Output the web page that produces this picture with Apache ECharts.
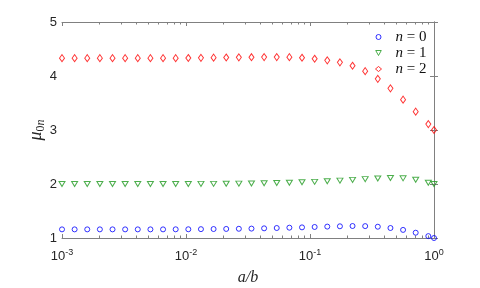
<!DOCTYPE html>
<html><head><meta charset="utf-8">
<script src="https://cdn.jsdelivr.net/npm/echarts@6/dist/echarts.min.js"></script>
<style>html,body{margin:0;padding:0;background:#fff}#c{width:480px;height:288px}</style>
</head><body><div id="c"></div>
<script>
// a/b sample positions
const xs = [0.001, 0.001264, 0.001598, 0.002020, 0.002555, 0.003230, 0.004084, 0.005164, 0.006531, 0.008256,
  0.01044, 0.01320, 0.01669, 0.02110, 0.02668, 0.03373, 0.04266, 0.05393, 0.06820, 0.08622,
  0.1090, 0.1378, 0.1743, 0.2203, 0.2786, 0.3522, 0.4454, 0.5631, 0.7119, 0.9000, 1.0];
// mu_{00}
const n0 = [1.160, 1.160, 1.160, 1.160, 1.160, 1.160, 1.160, 1.160, 1.160, 1.161,
  1.162, 1.164, 1.166, 1.168, 1.171, 1.174, 1.179, 1.185, 1.191, 1.197,
  1.204, 1.211, 1.217, 1.222, 1.220, 1.209, 1.185, 1.150, 1.098, 1.035, 1.000];
// mu_{01}
const n1 = [2.000, 2.000, 2.000, 2.000, 2.000, 2.000, 2.000, 2.000, 2.000, 2.000,
  2.000, 2.002, 2.003, 2.005, 2.007, 2.010, 2.013, 2.018, 2.024, 2.031,
  2.040, 2.050, 2.062, 2.076, 2.090, 2.103, 2.110, 2.105, 2.080, 2.022, 2.000];
// mu_{02}
const n2 = [4.330, 4.330, 4.330, 4.330, 4.330, 4.330, 4.330, 4.330, 4.330, 4.331,
  4.333, 4.336, 4.339, 4.342, 4.345, 4.348, 4.350, 4.350, 4.349, 4.338,
  4.320, 4.290, 4.253, 4.190, 4.090, 3.948, 3.772, 3.562, 3.340, 3.110, 3.000];

const seriesNames = ['n = 0', 'n = 1', 'n = 2'];
const xMin = 0.001, xMax = 1;
const yMin = 1, yMax = 5, yStep = 1;
// minor log ticks (2..9 within each decade), expressed as log10 values
const minorTicks = [];
for (let p = -3; p < 0; p++) for (let k = 2; k <= 9; k++) minorTicks.push(p + Math.log10(k));

const axisGray = '#808080';
const txt = '#262626';
const serif = '"Liberation Serif", "DejaVu Serif", serif';
const sans = '"Liberation Sans", Arial, sans-serif';
const downTri = 'path://M0,0 L10,0 L5,9 Z';

const chart = echarts.init(document.getElementById('c'), null, {renderer: 'canvas'});
const pts = arr => xs.map((x, i) => [x, arr[i]]);

chart.setOption({
  animation: false,
  backgroundColor: '#fff',
  grid: {left: 62, right: 46, top: 22, bottom: 50, containLabel: false, outerBoundsMode: 'none'},
  legend: {
    orient: 'vertical', left: 375, top: 29, padding: 0, itemGap: 0,
    itemWidth: 6, itemHeight: 5,
    itemStyle: {borderWidth: 1},
    data: [
      {name: seriesNames[0], icon: 'circle'},
      {name: seriesNames[1], icon: downTri},
      {name: seriesNames[2], icon: 'diamond'}
    ],
    formatter: name => name.replace(/^n/, '{i|n}'),
    textStyle: {
      fontFamily: serif, fontSize: 15, color: '#111', lineHeight: 16, padding: [0, 0, 0, 9],
      rich: {i: {fontFamily: serif, fontStyle: 'italic', fontSize: 15, color: '#111', lineHeight: 16}}
    }
  },
  xAxis: [
    {
      type: 'log', logBase: 10, min: xMin, max: xMax, position: 'bottom',
      axisLine: {show: true, lineStyle: {color: axisGray, width: 1}},
      axisTick: {show: true, inside: true, length: 4, lineStyle: {color: axisGray}},
      splitLine: {show: false}, minorTick: {show: false},
      name: 'a/b', nameLocation: 'middle', nameGap: 32,
      nameTextStyle: {fontFamily: serif, fontStyle: 'italic', fontSize: 16, color: txt},
      axisLabel: {
        margin: 11,
        formatter: v => '{b|10}{s|' + Math.round(Math.log10(v)) + '}',
        rich: {
          b: {fontFamily: sans, fontSize: 13, color: txt, verticalAlign: 'bottom', lineHeight: 14},
          s: {fontFamily: sans, fontSize: 9, color: txt, verticalAlign: 'bottom', lineHeight: 10, padding: [0, 0, 6, 0]}
        }
      }
    },
    {
      type: 'log', logBase: 10, min: xMin, max: xMax, position: 'top',
      axisLine: {show: true, lineStyle: {color: axisGray, width: 1}},
      axisTick: {show: true, inside: true, length: 4, lineStyle: {color: axisGray}},
      axisLabel: {show: false}, splitLine: {show: false}
    },
    {
      type: 'value', min: -3, max: 0, position: 'bottom',
      axisLine: {show: false}, splitLine: {show: false},
      axisLabel: {show: false, customValues: minorTicks},
      axisTick: {show: true, inside: true, length: 2.5, customValues: minorTicks, lineStyle: {color: axisGray}}
    },
    {
      type: 'value', min: -3, max: 0, position: 'top',
      axisLine: {show: false}, splitLine: {show: false},
      axisLabel: {show: false, customValues: minorTicks},
      axisTick: {show: true, inside: true, length: 2.5, customValues: minorTicks, lineStyle: {color: axisGray}}
    }
  ],
  yAxis: [
    {
      type: 'value', min: yMin, max: yMax, interval: yStep, position: 'left',
      axisLine: {show: true, lineStyle: {color: axisGray, width: 1}},
      axisTick: {show: true, inside: true, length: 4, lineStyle: {color: axisGray}},
      splitLine: {show: false},
      axisLabel: {margin: 5, fontFamily: sans, fontSize: 13, color: txt},
      name: '{m|μ}{z|0}{n|n}', nameLocation: 'middle', nameRotate: 90, nameGap: 17,
      nameMoveOverlap: false,
      nameTextStyle: {
        rich: {
          m: {fontFamily: serif, fontStyle: 'italic', fontSize: 18, color: txt, verticalAlign: 'top', lineHeight: 18},
          z: {fontFamily: serif, fontSize: 12, color: txt, verticalAlign: 'top', lineHeight: 12, padding: [8, 0, 0, 0]},
          n: {fontFamily: serif, fontStyle: 'italic', fontSize: 12, color: txt, verticalAlign: 'top', lineHeight: 12, padding: [8, 0, 0, 0]}
        }
      }
    },
    {
      type: 'value', min: yMin, max: yMax, interval: yStep, position: 'right',
      axisLine: {show: true, lineStyle: {color: axisGray, width: 1}},
      axisTick: {show: true, inside: true, length: 4, lineStyle: {color: axisGray}},
      axisLabel: {show: false}, splitLine: {show: false}
    }
  ],
  series: [
    {name: seriesNames[0], type: 'scatter', data: pts(n0), symbol: 'circle', symbolSize: 5,
     itemStyle: {color: 'rgba(0,0,0,0)', borderColor: '#0000ff', borderWidth: 1}},
    {name: seriesNames[1], type: 'scatter', data: pts(n1), symbol: 'triangle', symbolRotate: 180, symbolSize: [6, 5],
     itemStyle: {color: 'rgba(0,0,0,0)', borderColor: '#1f9a1f', borderWidth: 1}},
    {name: seriesNames[2], type: 'scatter', data: pts(n2), symbol: 'diamond', symbolSize: [5, 7],
     itemStyle: {color: 'rgba(0,0,0,0)', borderColor: '#ff0000', borderWidth: 1}}
  ]
});
</script>
</body></html>
